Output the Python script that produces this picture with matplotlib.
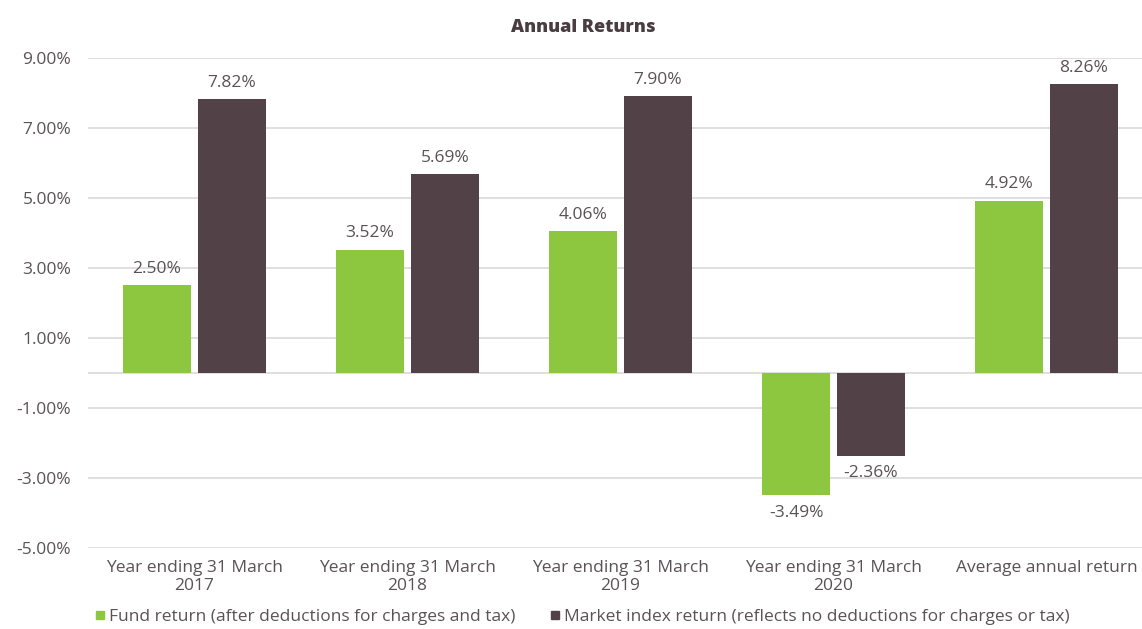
import matplotlib.pyplot as plt
from matplotlib.lines import Line2D
import numpy as np

# data
categories = ["Year ending 31 March\n2017", "Year ending 31 March\n2018",
              "Year ending 31 March\n2019", "Year ending 31 March\n2020",
              "Average annual return"]
fund = [2.50, 3.52, 4.06, -3.49, 4.92]
market = [7.82, 5.69, 7.90, -2.36, 8.26]
yticks = [9, 7, 5, 3, 1, -1, -3, -5]

green = "#8DC63F"
brown = "#524248"
txt = "#5a5256"
fs = 12.5

plt.rcParams['font.family'] = ['Open Sans', 'DejaVu Sans']

fig = plt.figure(figsize=(11.42, 6.29), dpi=100)
ax = fig.add_axes([0.077, 0.1288, 0.923, 0.779])

x = np.arange(len(categories))
w = 0.32
off = 0.176
b1 = ax.bar(x - off, fund, w, color=green, zorder=3)
b2 = ax.bar(x + off, market, w, color=brown, zorder=3)

# value labels
for bars, vals in [(b1, fund), (b2, market)]:
    for b, v in zip(bars, vals):
        cx = b.get_x() + b.get_width() / 2
        if v >= 0:
            ax.annotate(f"{v:.2f}%", (cx, v), xytext=(0, 6), textcoords="offset points",
                        ha="center", va="bottom", fontsize=fs, color=txt)
        else:
            ax.annotate(f"{v:.2f}%", (cx, v), xytext=(0, -7), textcoords="offset points",
                        ha="center", va="top", fontsize=fs, color=txt)

ax.set_ylim(-5, 9)
ax.set_xlim(-0.5, 4.448)
ax.set_yticks(yticks)
ax.set_yticklabels([f"{t:.2f}%" for t in yticks])
ax.axhline(0, color="#d9d9d9", lw=1.2, zorder=2)
ax.grid(axis="y", color="#d9d9d9", lw=1.2, zorder=0)
ax.set_xticks(x)
ax.set_xticklabels(categories, linespacing=1.1)
ax.tick_params(axis="both", length=0, labelsize=fs, colors=txt)
ax.tick_params(axis="y", pad=12)
ax.tick_params(axis="x", pad=9)
for s in ax.spines.values():
    s.set_visible(False)

fig.text(0.511, 0.957, "Annual Returns", ha="center", va="center",
         fontsize=13, fontweight="heavy", color="#4a3c40")

handles = [Line2D([], [], marker="s", ls="", color=green, markersize=6),
           Line2D([], [], marker="s", ls="", color=brown, markersize=6)]
labels = ["Fund return (after deductions for charges and tax)",
          "Market index return (reflects no deductions for charges or tax)"]
leg = fig.legend(handles, labels, loc="center", bbox_to_anchor=(0.51, 0.019), ncol=2,
                 frameon=False, fontsize=fs, handlelength=0.6, handletextpad=0.2,
                 columnspacing=2.0, borderaxespad=0)
for t in leg.get_texts():
    t.set_color(txt)

plt.savefig("out.png", dpi=100)
